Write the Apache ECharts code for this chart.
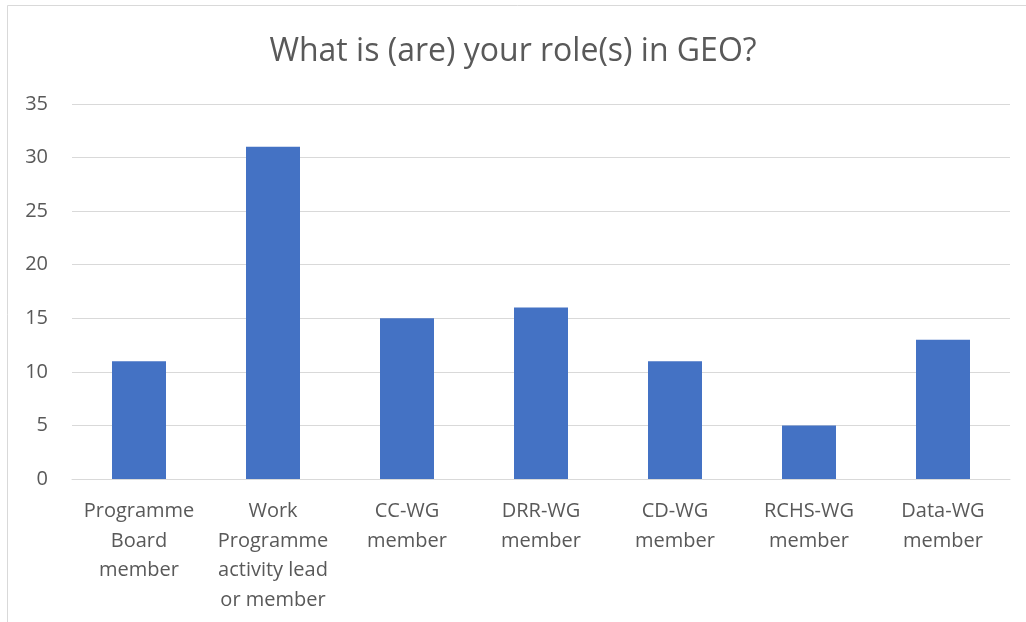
<!DOCTYPE html>
<html>
<head>
<meta charset="UTF-8">
<title>GEO roles</title>
<script src="https://cdn.jsdelivr.net/npm/echarts@6/dist/echarts.min.js"></script>
<style>body{margin:0}</style>
</head>
<body>
<div id="chart" style="width:1026px;height:622px"></div>
<script type="text/javascript">
var categories=['Programme\nBoard\nmember','Work\nProgramme\nactivity lead\nor member','CC-WG\nmember','DRR-WG\nmember','CD-WG\nmember','RCHS-WG\nmember','Data-WG\nmember'];
var counts=[11,31,15,16,11,5,13];
var yTicks={min:0,max:35,interval:5};

var chart=echarts.init(document.getElementById('chart'));
var font='"Open Sans", "Noto Sans", sans-serif';
var option={
	backgroundColor:'#fff',
	animation:false,
	title:{
		text:'What is (are) your role(s) in GEO?',
		left:'center',
		top:31,
		textStyle:{fontFamily:font,fontSize:32,fontWeight:'normal',color:'#595959'}
	},
	// chart frame, like the office chart border
	graphic:[{
		type:'rect',
		shape:{x:7.5,y:5.5,width:1200,height:800},
		style:{fill:'none',stroke:'#d9d9d9',lineWidth:1},
		silent:true
	}],
	grid:{left:72,right:16,top:104,bottom:143},
	xAxis:{
		type:'category',
		data:categories,
		axisLine:{lineStyle:{color:'#d9d9d9',width:1}},
		axisTick:{show:false},
		axisLabel:{fontFamily:font,fontSize:20,color:'#595959',lineHeight:29.5,margin:18,interval:0}
	},
	yAxis:{
		type:'value',
		min:yTicks.min,max:yTicks.max,interval:yTicks.interval,
		axisLine:{show:false},
		axisTick:{show:false},
		splitLine:{lineStyle:{color:'#d9d9d9',width:1}},
		axisLabel:{fontFamily:font,fontSize:20,color:'#595959',margin:24}
	},
	series:[{
		type:'bar',
		data:counts,
		barWidth:54,
		itemStyle:{color:'#4472c4'}
	}]
};
chart.setOption(option);
</script>
</body>
</html>
